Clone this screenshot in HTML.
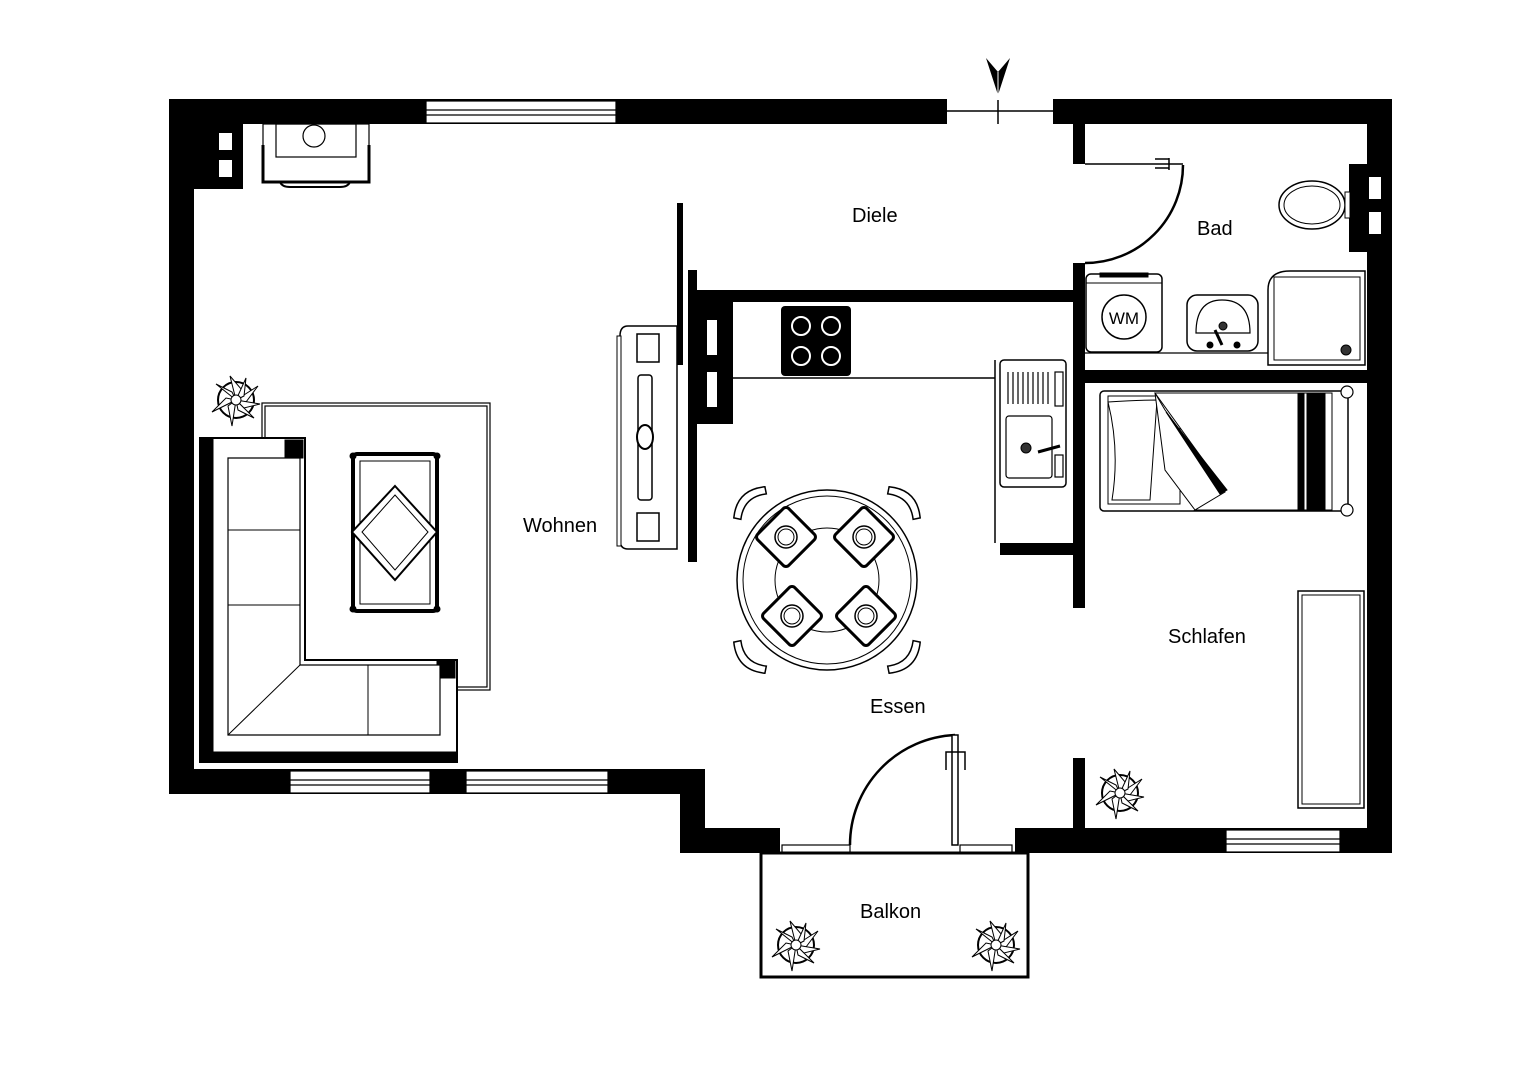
<!DOCTYPE html>
<html><head><meta charset="utf-8"><style>
html,body{margin:0;padding:0;background:#fff}
svg{display:block}
text{font-family:"Liberation Sans",sans-serif;fill:#000}
</style></head><body>
<svg width="1528" height="1080" viewBox="0 0 1528 1080" xmlns="http://www.w3.org/2000/svg">
<defs>
<g id="plant">
<circle cx="0" cy="0" r="18" fill="none" stroke="#000" stroke-width="2"/>
<g fill="#fff" stroke="#000" stroke-width="1">
<path d="M0,0 L-6,-24 L6,-10 Z"/><path d="M0,0 L22,-14 L10,2 Z"/><path d="M0,0 L18,18 L2,10 Z"/>
<path d="M0,0 L-4,26 L-8,6 Z"/><path d="M0,0 L-24,12 L-10,-2 Z"/><path d="M0,0 L-20,-16 L-4,-8 Z"/>
<path d="M0,0 L10,-22 L8,-4 Z"/><path d="M0,0 L24,4 L8,8 Z"/>
<circle cx="0" cy="0" r="5"/>
</g>
</g>
<g id="chair">
<path d="M-22,-8 Q0,-26 22,-8 L18,-2 Q0,-16 -18,-2 Z" fill="#fff" stroke="#000" stroke-width="1.5"/>
</g>
<g id="plate">
<rect x="-22" y="-22" width="44" height="44" rx="4" fill="#fff" stroke="#000" stroke-width="3" transform="rotate(45)"/>
<circle r="11" fill="#fff" stroke="#000" stroke-width="1.5"/><circle r="8" fill="none" stroke="#000" stroke-width="1"/>
</g>
</defs>

<g fill="#000">
<rect x="169" y="99" width="778" height="25"/>
<rect x="1053" y="99" width="339" height="25"/>
<rect x="169" y="99" width="25" height="695"/>
<rect x="1367" y="99" width="25" height="754"/>
<rect x="169" y="769" width="536" height="25"/>
<rect x="680" y="769" width="25" height="84"/>
<rect x="680" y="828" width="100" height="25"/>
<rect x="1015" y="828" width="377" height="25"/>
<rect x="194" y="124" width="49" height="65"/>
<rect x="1073" y="124" width="12" height="40"/>
<rect x="1073" y="263" width="12" height="345"/>
<rect x="1085" y="370" width="282" height="13"/>
<rect x="1349" y="164" width="18" height="88"/>
<rect x="695" y="290" width="378" height="12"/>
<rect x="688" y="270" width="9" height="292"/>
<rect x="697" y="302" width="36" height="122"/>
<rect x="677" y="203" width="6" height="162"/>
<rect x="1000" y="543" width="73" height="12"/>
<rect x="1073" y="758" width="12" height="70"/>
</g>
<g fill="#fff">
<rect x="219" y="133" width="13" height="17"/><rect x="219" y="160" width="13" height="17"/>
<rect x="707" y="320" width="10" height="35"/><rect x="707" y="372" width="10" height="35"/>
<rect x="1369" y="177" width="12" height="22"/><rect x="1369" y="212" width="12" height="22"/>
<rect x="1350" y="124" width="17" height="40"/><rect x="1350" y="252" width="17" height="18"/>
</g>
<g fill="#fff" stroke="#000" stroke-width="1.2">
<rect x="426" y="101" width="190" height="22"/><line x1="426" y1="110" x2="616" y2="110"/><line x1="426" y1="115" x2="616" y2="115"/>
<rect x="290" y="771" width="140" height="22"/><line x1="290" y1="780" x2="430" y2="780"/><line x1="290" y1="785" x2="430" y2="785"/>
<rect x="466" y="771" width="142" height="22"/><line x1="466" y1="780" x2="608" y2="780"/><line x1="466" y1="785" x2="608" y2="785"/>
<rect x="1226" y="830" width="114" height="22"/><line x1="1226" y1="839" x2="1340" y2="839"/><line x1="1226" y1="844" x2="1340" y2="844"/>
<rect x="782" y="845" width="68" height="8"/>
<rect x="960" y="845" width="52" height="8"/>
</g>
<line x1="947" y1="111" x2="1053" y2="111" stroke="#000" stroke-width="1.5"/>
<line x1="998" y1="100" x2="998" y2="124" stroke="#000" stroke-width="1.5"/>
<path d="M986,58 L998,72 L1010,58 L998,95 Z" fill="#000"/>
<line x1="998" y1="72" x2="998" y2="95" stroke="#fff" stroke-width="1"/>

<rect x="761" y="853" width="267" height="124" fill="none" stroke="#000" stroke-width="3"/>
<path d="M850,845 A110,110 0 0 1 955,735" fill="none" stroke="#000" stroke-width="2.5"/>
<rect x="952" y="735" width="6" height="110" fill="#fff" stroke="#000" stroke-width="1.5"/>
<path d="M946,770 L946,752 L965,752 L965,770" fill="none" stroke="#000" stroke-width="1.5"/>
<path d="M1183,165 A98,98 0 0 1 1085,263" fill="none" stroke="#000" stroke-width="2.5"/>
<line x1="1085" y1="164" x2="1183" y2="164" stroke="#000" stroke-width="1.5"/>
<path d="M1155,159 L1169,159 M1155,168 L1169,168 M1169,158 L1169,170" stroke="#000" stroke-width="1.5"/>

<g fill="none" stroke="#000">
<rect x="263" y="124" width="106" height="58" stroke-width="1.2"/>
<path d="M263,145 L263,182 L369,182 L369,145" stroke-width="3"/>
<rect x="276" y="124" width="80" height="33" stroke-width="1.2"/>
<circle cx="314" cy="136" r="11" stroke-width="1.2"/>
<path d="M280,182 Q282,187 290,187 L340,187 Q348,187 350,182" stroke-width="2"/>
</g>

<rect x="262" y="403" width="228" height="287" fill="none" stroke="#000" stroke-width="1.2"/>
<rect x="265" y="406" width="222" height="281" fill="none" stroke="#000" stroke-width="1.2"/>
<g stroke="#000" fill="#fff">
<path d="M200,438 L305,438 L305,660 L457,660 L457,762 L200,762 Z" stroke-width="2"/>
<path d="M200,438 L213,438 L213,762 L200,762 Z" fill="#000"/>
<path d="M200,752 L457,752 L457,762 L200,762 Z" fill="#000"/>
<rect x="285" y="440" width="18" height="18" fill="#000"/>
<rect x="437" y="660" width="18" height="18" fill="#000"/>
<path d="M228,458 L300,458 L300,665 L368,665 L440,665 L440,735 L228,735 Z" stroke-width="1.2"/>
<line x1="228" y1="530" x2="300" y2="530" stroke-width="1"/>
<line x1="228" y1="605" x2="300" y2="605" stroke-width="1"/>
<line x1="368" y1="665" x2="368" y2="735" stroke-width="1"/>
<line x1="228" y1="735" x2="300" y2="665" stroke-width="1"/>
</g>
<g stroke="#000" fill="none">
<rect x="353" y="454" width="84" height="157" rx="4" stroke-width="4"/>
<rect x="360" y="461" width="70" height="143" stroke-width="1"/>
<path d="M395,486 L437,532 L395,580 L352,532 Z" fill="#fff" stroke-width="2"/>
<path d="M395,495 L428,532 L395,570 L362,532 Z" stroke-width="1"/>
<circle cx="353" cy="456" r="3" fill="#000"/><circle cx="437" cy="456" r="3" fill="#000"/>
<circle cx="353" cy="609" r="3" fill="#000"/><circle cx="437" cy="609" r="3" fill="#000"/>
</g>
<g stroke="#000" fill="#fff">
<path d="M628,326 L677,326 L677,549 L628,549 Q620,549 620,540 L620,336 Q620,326 628,326 Z" stroke-width="1.5"/>
<rect x="617" y="336" width="4" height="210" stroke-width="1"/>
<rect x="637" y="334" width="22" height="28" stroke-width="1.5"/>
<rect x="637" y="513" width="22" height="28" stroke-width="1.5"/>
<rect x="638" y="375" width="14" height="125" rx="3" stroke-width="1.5"/>
<ellipse cx="645" cy="437" rx="8" ry="12" stroke-width="2"/>
</g>

<circle cx="827" cy="580" r="90" fill="#fff" stroke="#000" stroke-width="1.5"/>
<circle cx="827" cy="580" r="84" fill="none" stroke="#000" stroke-width="1"/>
<circle cx="827" cy="580" r="52" fill="none" stroke="#000" stroke-width="1"/>
<use href="#chair" transform="translate(755,508) rotate(-45)"/>
<use href="#chair" transform="translate(899,508) rotate(45)"/>
<use href="#chair" transform="translate(755,652) rotate(-135)"/>
<use href="#chair" transform="translate(899,652) rotate(135)"/>
<use href="#plate" transform="translate(786,537)"/>
<use href="#plate" transform="translate(864,537)"/>
<use href="#plate" transform="translate(792,616)"/>
<use href="#plate" transform="translate(866,616)"/>

<path d="M733,378 L995,378 L995,360 M995,360 L995,543" fill="none" stroke="#000" stroke-width="1.5"/>
<rect x="781" y="306" width="70" height="70" rx="4" fill="#000"/>
<g fill="none" stroke="#fff" stroke-width="2">
<circle cx="801" cy="326" r="9"/><circle cx="831" cy="326" r="9"/><circle cx="801" cy="356" r="9"/><circle cx="831" cy="356" r="9"/>
</g>
<g stroke="#000" fill="#fff">
<rect x="1000" y="360" width="66" height="127" rx="4" stroke-width="1.5"/>
<rect x="1006" y="416" width="46" height="62" rx="3" stroke-width="1.2"/>
<rect x="1055" y="372" width="8" height="34" stroke-width="1.2"/>
<rect x="1055" y="455" width="8" height="22" stroke-width="1.2"/>
<path d="M1008,372 V404 M1013,372 V404 M1018,372 V404 M1023,372 V404 M1028,372 V404 M1033,372 V404 M1038,372 V404 M1043,372 V404 M1048,372 V404" stroke-width="1.2"/>
<circle cx="1026" cy="448" r="5" fill="#333"/>
<path d="M1038,452 L1060,446" stroke-width="3"/>
</g>

<g stroke="#000" fill="#fff">
<line x1="1085" y1="353" x2="1268" y2="353" stroke-width="1.2"/>
<rect x="1086" y="274" width="76" height="78" rx="5" stroke-width="1.5"/>
<line x1="1086" y1="283" x2="1162" y2="283" stroke-width="1"/>
<rect x="1100" y="273" width="48" height="4" fill="#000"/>
<circle cx="1124" cy="317" r="22" stroke-width="1.5"/>
<rect x="1187" y="295" width="71" height="56" rx="10" stroke-width="1.5"/>
<path d="M1196,333 Q1196,300 1222,300 Q1250,300 1250,333 Z" stroke-width="1.2"/>
<circle cx="1223" cy="326" r="4" fill="#333"/>
<circle cx="1210" cy="345" r="3" fill="#000"/><circle cx="1237" cy="345" r="3" fill="#000"/>
<path d="M1215,330 L1222,345" stroke-width="3"/>
<path d="M1268,365 L1268,290 Q1268,271 1290,271 L1365,271 L1365,365 Z" stroke-width="1.5"/>
<rect x="1274" y="277" width="86" height="83" stroke-width="1"/>
<circle cx="1346" cy="350" r="5" fill="#333"/>
<ellipse cx="1312" cy="205" rx="33" ry="24" stroke-width="1.5"/>
<ellipse cx="1312" cy="205" rx="28" ry="19" stroke-width="1"/>
<rect x="1345" y="192" width="5" height="26" stroke-width="1"/>
</g>
<text x="1124" y="324" font-size="17" text-anchor="middle">WM</text>

<g stroke="#000" fill="#fff">
<rect x="1100" y="391" width="248" height="120" rx="4" stroke-width="1.5"/>
<rect x="1108" y="396" width="72" height="108" stroke-width="1"/>
<path d="M1108,402 Q1140,400 1157,400 L1150,500 L1112,500 Q1120,450 1108,402 Z" stroke-width="1"/>
<path d="M1155,393 L1332,393 L1332,510 L1195,510 L1225,490 Z" stroke-width="1"/>
<path d="M1155,393 L1165,410 L1225,492 L1195,510 L1165,470 Z" stroke-width="1"/>
<path d="M1166,412 L1227,490 L1220,494 Z" fill="#000"/>
<rect x="1298" y="393" width="6" height="117" fill="#000"/>
<rect x="1307" y="393" width="18" height="117" fill="#000"/>
<circle cx="1347" cy="392" r="6" stroke-width="1.2"/>
<circle cx="1347" cy="510" r="6" stroke-width="1.2"/>
</g>
<rect x="1298" y="591" width="66" height="217" fill="#fff" stroke="#000" stroke-width="1.5"/>
<rect x="1302" y="595" width="58" height="209" fill="none" stroke="#000" stroke-width="1"/>

<use href="#plant" transform="translate(236,400)"/>
<use href="#plant" transform="translate(1120,793)"/>
<use href="#plant" transform="translate(796,945)"/>
<use href="#plant" transform="translate(996,945)"/>

<g font-size="20">
<text x="852" y="222">Diele</text>
<text x="1197" y="235">Bad</text>
<text x="523" y="532">Wohnen</text>
<text x="870" y="713">Essen</text>
<text x="1168" y="643">Schlafen</text>
<text x="860" y="918">Balkon</text>
</g>
<text x="0" y="0" font-size="10" transform="translate(1384,797) rotate(-90)">McGrundriss</text>
</svg>
</body></html>
